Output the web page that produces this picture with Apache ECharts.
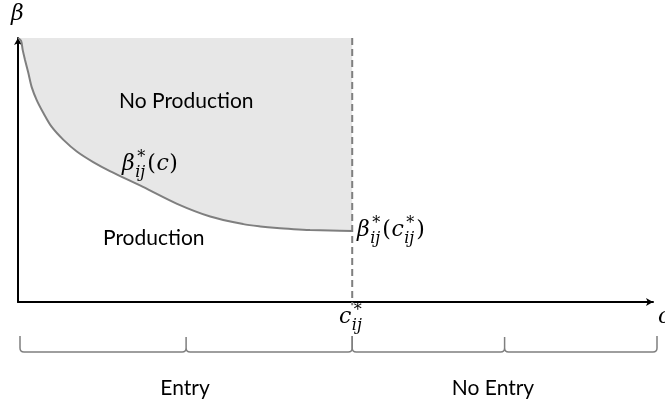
<!DOCTYPE html>
<html><head><meta charset="utf-8">
<script src="https://cdn.jsdelivr.net/npm/echarts@6/dist/echarts.min.js"></script>
<style>html,body{margin:0;padding:0;background:#fff}#c{width:665px;height:404px}</style>
</head><body><div id="c"></div>
<script>
// ---- data ----
const curveX = [0, 0.009, 0.014, 0.021, 0.031, 0.041, 0.056, 0.076, 0.101, 0.136, 0.176, 0.225, 0.275, 0.374, 0.476, 0.575, 0.674, 0.725, 0.775, 0.825, 0.874, 0.935, 1.0];
const curveY = [1.0, 0.99, 0.955, 0.917, 0.867, 0.814, 0.765, 0.716, 0.663, 0.614, 0.570, 0.530, 0.496, 0.436, 0.372, 0.324, 0.295, 0.286, 0.280, 0.276, 0.273, 0.271, 0.269];
const cStar = 1.0;
const xMax = 1.9;
const yMax = 1.0;
const dashY = [1.0, -0.012];
const regionLabels = ['No Production', 'Production'];
const braceLabels = ['Entry', 'No Entry'];

// ---- chart ----
const chart = echarts.init(document.getElementById('c'), null, {renderer: 'canvas'});
const curveData = curveX.map((x, i) => [x, curveY[i]]);
const dashData = dashY.map(y => [cStar, y]);

const ctx = document.createElement('canvas').getContext('2d');
const MF = '"DejaVu Serif"';
const SF = 'Lato';
function measure(text, font) { ctx.font = font; return ctx.measureText(text).width; }
function mtxt(x, base, text, size, style) {
  return {type: 'text', x: x, y: base - 0.346 * size, z: 100,
    style: {text: text, fontSize: size, fontFamily: 'DejaVu Serif', fontStyle: style,
      fill: '#000', textAlign: 'left', verticalAlign: 'middle'}};
}
function mathLabel(x, base, parts, size) {
  const els = [];
  let cx = x;
  const sm = Math.round(size * 0.74);
  parts.forEach(p => {
    if (p.sup !== undefined) {
      els.push(mtxt(cx + 2, base - size * 0.4, p.sup, sm, 'normal'));
      els.push(mtxt(cx, base + size * 0.3, p.sub, sm, 'italic'));
      cx += Math.max(measure(p.sup, `normal ${sm}px ${MF}`) + 2, measure(p.sub, `italic ${sm}px ${MF}`)) + 2;
    } else {
      const st = p.it ? 'italic' : 'normal';
      els.push(mtxt(cx, base, p.t, size, st));
      cx += measure(p.t, `${st} ${size}px ${MF}`) + 0.5;
    }
  });
  return els;
}
function stxt(x, base, text, size, align) {
  return {type: 'text', x: x, y: base - 0.387 * size, z: 100,
    style: {text: text, fontSize: size, fontFamily: SF, fill: '#000',
      textAlign: align, verticalAlign: 'middle'}};
}

const MS = 22;
const graphics = [].concat(
  mathLabel(11, 22, [{t: 'β', it: true}], MS),
  mathLabel(122, 172, [{t: 'β', it: true}, {sup: '*', sub: 'ij'}, {t: '('}, {t: 'c', it: true}, {t: ')'}], MS),
  mathLabel(357, 238, [{t: 'β', it: true}, {sup: '*', sub: 'ij'}, {t: '('}, {t: 'c', it: true}, {sup: '*', sub: 'ij'}, {t: ')'}], MS),
  mathLabel(339, 325, [{t: 'c', it: true}, {sup: '*', sub: 'ij'}], MS),
  mathLabel(658, 325, [{t: 'c', it: true}], MS),
  [stxt(119, 109, regionLabels[0], 21, 'left'),
   stxt(103, 246, regionLabels[1], 21, 'left'),
   stxt(185, 396, braceLabels[0], 21, 'center'),
   stxt(493, 396, braceLabels[1], 21, 'center')]
);

function bracePath(a, b, yt, yb, r) {
  const m = (a + b) / 2;
  return `M${a},${yt} L${a},${yb - r} Q${a},${yb} ${a + r},${yb} L${m - r},${yb} Q${m},${yb} ${m},${yb - r} L${m},${yt + 1} ` +
    `M${m},${yb - r} Q${m},${yb} ${m + r},${yb} L${b - r},${yb} Q${b},${yb} ${b},${yb - r} L${b},${yt}`;
}

const axisCommon = {
  type: 'value',
  axisTick: {show: false}, axisLabel: {show: false}, splitLine: {show: false},
  axisLine: {show: true, symbol: ['none', 'arrow'], symbolSize: [6, 7], lineStyle: {color: '#000', width: 2}}
};

chart.setOption({
  animation: false,
  grid: {left: 18, right: 12, top: 38, bottom: 102, containLabel: false},
  xAxis: Object.assign({}, axisCommon, {min: 0, max: xMax}),
  yAxis: Object.assign({}, axisCommon, {min: 0, max: yMax}),
  series: [
    {type: 'line', data: curveData, smooth: 0.3, showSymbol: false, symbol: 'none',
     lineStyle: {color: '#7f7f7f', width: 2}, areaStyle: {color: '#e7e7e7', origin: 'end', opacity: 1}, z: 2},
    {type: 'line', data: dashData, showSymbol: false, symbol: 'none', clip: false,
     lineStyle: {color: '#7f7f7f', width: 2, type: [7, 4]}, z: 3},
    {type: 'custom', coordinateSystem: 'cartesian2d', data: [[0, 0]], silent: true, clip: false,
     renderItem: function (params, api) {
       const p0 = api.coord([0, 0]);
       const p1 = api.coord([cStar, 0]);
       const p2 = api.coord([xMax, 0]);
       const yb = p0[1] + 50, yt = p0[1] + 34;
       return {type: 'group', children: [
         {type: 'path', shape: {pathData: bracePath(p0[0] + 2, p1[0], yt, yb, 4)},
          style: {stroke: '#7f7f7f', fill: null, lineWidth: 1.5}},
         {type: 'path', shape: {pathData: bracePath(p1[0], p2[0] + 4, yt, yb, 4)},
          style: {stroke: '#7f7f7f', fill: null, lineWidth: 1.5}}
       ]};
     }}
  ],
  graphic: graphics
});
</script></body></html>
